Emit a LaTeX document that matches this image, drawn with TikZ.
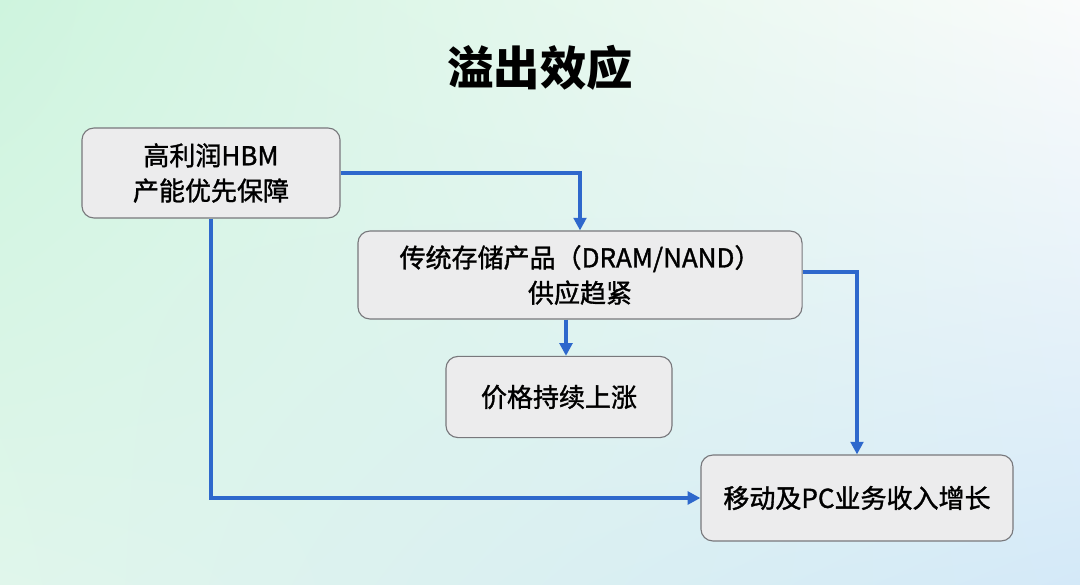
\documentclass[tikz,border=0pt]{standalone}
\usepackage{fontspec}
\setmainfont{Noto Sans CJK SC}
\newfontfamily\boxfont{Noto Sans CJK SC}[FakeBold=1.3]
\usepackage{tikz}
\usetikzlibrary{arrows.meta, positioning, shadings}

\definecolor{flowblue}{RGB}{46,104,204}
\definecolor{boxfill}{RGB}{236,236,237}
\definecolor{boxline}{RGB}{120,120,124}
\definecolor{bgwhite}{RGB}{250,251,251}
\definecolor{bgmint}{RGB}{206,244,222}
\definecolor{bgpale}{RGB}{224,246,235}
\definecolor{bgblue}{RGB}{212,233,248}

\begin{document}
\begin{tikzpicture}[x=0.025cm, y=-0.025cm,
    box/.style={draw=boxline, line width=0.8pt, fill=boxfill, rounded corners=3mm,
      align=center, font=\boxfont\fontsize{18.5}{25}\selectfont, inner sep=0pt},
    flow/.style={draw=flowblue, line width=2.5pt, -{Triangle[length=9pt, width=9pt]}}]
  % background
  \useasboundingbox (0,0) rectangle (1080,585);
  \shade[upper left=bgmint, upper right=bgwhite, lower left=bgpale, lower right=bgblue] (0,0) rectangle (1080,585);
  % title
  \node[font=\fontsize{33}{38}\selectfont\bfseries] (title) at (540,68) {溢出效应};
  % boxes
  \node[box, minimum width=6.45cm, minimum height=2.25cm] (hbm) at (211,173) {高利润HBM\\产能优先保障};
  \node[box, minimum width=11.1cm, minimum height=2.2cm] (supply) at (580,275) {传统存储产品（DRAM/NAND）\\供应趋紧};
  \node[box, minimum width=5.65cm, minimum height=2.03cm] (price) at (559,397) {价格持续上涨};
  \node[box, minimum width=7.8cm, minimum height=2.15cm] (growth) at (857,498) {移动及PC业务收入增长};
  % connectors
  \draw[flow] (hbm.east) -| (supply.north);
  \draw[flow] (hbm.south) |- (growth.west);
  \draw[flow] ([yshift=0.07cm]supply.east) -| (growth.north);
  \draw[flow] ([xshift=-0.35cm]supply.south) -- ([xshift=-0.35cm]supply.south |- price.north);
\end{tikzpicture}
\end{document}
